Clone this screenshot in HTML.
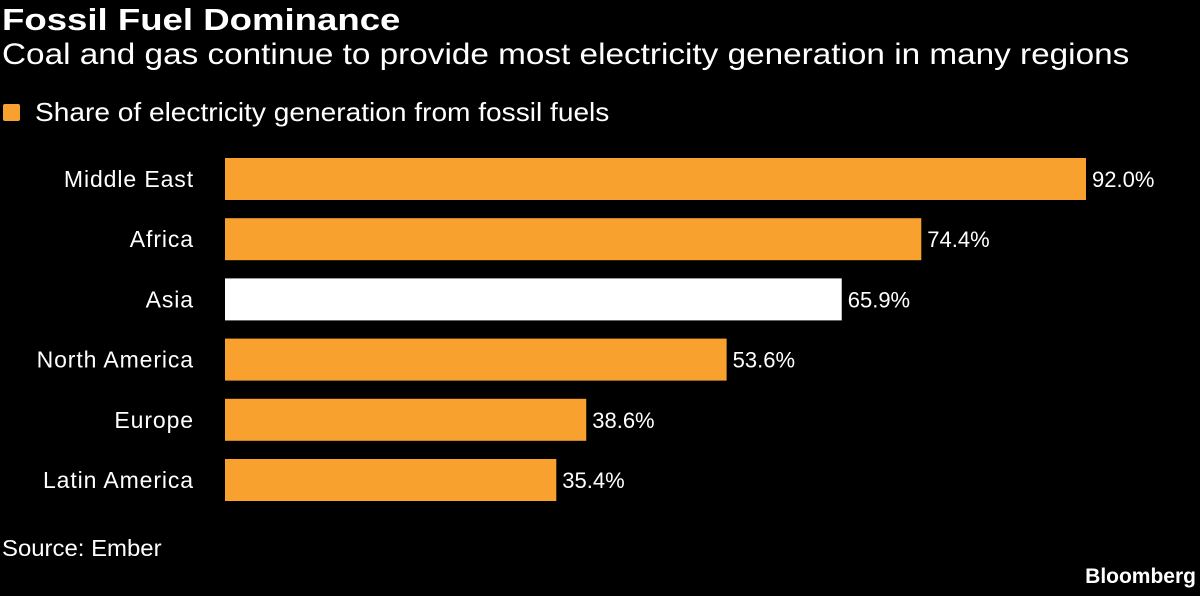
<!DOCTYPE html>
<html><head><meta charset="utf-8"><style>
body{margin:0;background:#000;width:1200px;height:596px;overflow:hidden;font-family:"Liberation Sans",sans-serif;color:#fff}
#root{position:relative;width:1200px;height:596px}
.t{position:absolute;white-space:nowrap;transform-origin:0 0}
</style></head><body><div id="root">
<div class="t" style="left:2px;top:2px;font-size:31px;font-weight:bold;transform:scaleX(1.18)">Fossil Fuel Dominance</div>
<div class="t" style="left:2px;top:38px;font-size:30px;transform:scaleX(1.11)">Coal and gas continue to provide most electricity generation in many regions</div>
<div style="position:absolute;left:3px;top:104px;width:17px;height:17px;background:#f9a12e;border-radius:2px"></div>
<div class="t" style="left:35px;top:97px;font-size:26px;transform:scaleX(1.08)">Share of electricity generation from fossil fuels</div>
<svg id="plot" width="1200" height="596" style="position:absolute;left:0;top:0"></svg>
<div class="t" style="left:2px;top:535px;font-size:23px;transform:scaleX(1.04)">Source: Ember</div>
<div class="t" style="right:4px;top:565px;font-size:21px;font-weight:bold">Bloomberg</div>
</div>
<script>
const categories=["Middle East","Africa","Asia","North America","Europe","Latin America"];
const values=[92.0,74.4,65.9,53.6,38.6,35.4];
const highlight=[false,false,true,false,false,false];
const x0=225,pxPer=861/92;
const xs=v=>x0+v*pxPer;
const ys=i=>158+i*60.2;
const svg=document.getElementById('plot');
const NS='http://www.w3.org/2000/svg';
categories.forEach((c,i)=>{
 const r=document.createElementNS(NS,'rect');
 r.setAttribute('x',x0);r.setAttribute('y',ys(i));
 r.setAttribute('width',xs(values[i])-x0);r.setAttribute('height',42);
 r.setAttribute('fill',highlight[i]?'#ffffff':'#f9a12e');
 
 
 svg.appendChild(r);
 const l=document.createElementNS(NS,'text');
 l.setAttribute('x',194);l.setAttribute('y',ys(i)+29);
 l.setAttribute('text-anchor','end');l.setAttribute('fill','#fff');
 l.setAttribute('font-size','23');l.setAttribute('letter-spacing','0.9');
 l.setAttribute('font-family','"Liberation Sans",sans-serif');
 l.textContent=c;
 
 
 svg.appendChild(l);
 const v=document.createElementNS(NS,'text');
 v.setAttribute('x',xs(values[i])+6);v.setAttribute('y',ys(i)+29);
 v.setAttribute('fill','#fff');v.setAttribute('font-size','22');
 v.setAttribute('font-family','"Liberation Sans",sans-serif');
 v.textContent=values[i].toFixed(1)+'%';
 
 
 svg.appendChild(v);
});
</script></body></html>
